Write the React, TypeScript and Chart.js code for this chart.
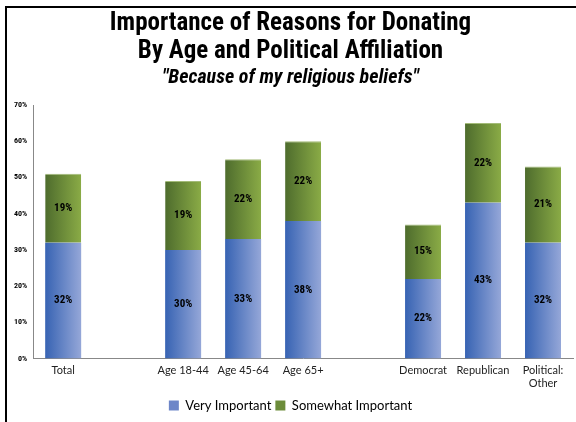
import React, { useEffect, useRef } from "react";
import { Chart, registerables } from "chart.js";
Chart.register(...registerables);

const categories: (string | string[])[] = [
  "Total", "", "Age 18-44", "Age 45-64", "Age 65+", "", "Democrat", "Republican", ["Political:", "Other"],
];
const veryImportant: (number | null)[] = [32, null, 30, 33, 38, null, 22, 43, 32];
const somewhatImportant: (number | null)[] = [19, null, 19, 22, 22, null, 15, 22, 21];
const seriesNames = ["Very Important", "Somewhat Important"];
const titleLines = ["Importance of Reasons for Donating", "By Age and Political Affiliation"];
const subtitleText = "\"Because of my religious beliefs\"";
const yMax = 70;
const yStep = 10;

const NARROW = "'Liberation Sans Narrow', 'Arial Narrow', 'Roboto Condensed', Arial, sans-serif";
const LABEL_FONT = "Lato, 'Open Sans', sans-serif";

function barGradient(ctx: any, dark: string, light: string) {
  const chart = ctx.chart;
  const xs = chart.scales?.x;
  if (!xs || !chart.chartArea) return dark;
  const cx = xs.getPixelForValue(ctx.dataIndex);
  const half = (xs.width / categories.length) * 0.6 / 2;
  const g = chart.ctx.createLinearGradient(cx - half, 0, cx + half, 0);
  g.addColorStop(0, dark);
  g.addColorStop(1, light);
  return g;
}

const framePlugin = {
  id: "frame",
  afterDraw(chart: any) {
    const c = chart.ctx;
    c.save();
    c.strokeStyle = "#000";
    c.lineWidth = 2;
    c.beginPath();
    c.moveTo(6, chart.height);
    c.lineTo(6, 7);
    c.lineTo(chart.width, 7);
    c.stroke();
    c.restore();
  },
};

const valueLabelPlugin = {
  id: "valueLabels",
  afterDatasetsDraw(chart: any) {
    const c = chart.ctx;
    c.save();
    c.font = `bold 11px ${NARROW}`;
    c.fillStyle = "#000";
    c.textAlign = "center";
    c.textBaseline = "middle";
    chart.data.datasets.forEach((ds: any, di: number) => {
      const meta = chart.getDatasetMeta(di);
      meta.data.forEach((el: any, i: number) => {
        const v = ds.data[i];
        if (v == null) return;
        const { x, y, base } = el.getProps(["x", "y", "base"], true);
        c.fillText(`${v}%`, x, (y + base) / 2);
      });
    });
    c.restore();
  },
};

export default function App() {
  const ref = useRef<HTMLCanvasElement | null>(null);
  useEffect(() => {
    document.body.style.margin = "0";
    if (!ref.current) return;
    const chart = new Chart(ref.current, {
      type: "bar",
      data: {
        labels: categories,
        datasets: [
          {
            label: seriesNames[0],
            data: veryImportant,
            backgroundColor: (ctx: any) => barGradient(ctx, "#3763b3", "#95a7d8"),
            borderWidth: 0,
            barPercentage: 0.6,
            categoryPercentage: 1,
          },
          {
            label: seriesNames[1],
            data: somewhatImportant,
            backgroundColor: (ctx: any) => barGradient(ctx, "#4e6c2d", "#8aab46"),
            borderColor: "#a3bb78",
            borderWidth: { top: 1, left: 0, right: 0, bottom: 0 },
            borderSkipped: false,
            barPercentage: 0.6,
            categoryPercentage: 1,
          },
        ],
      },
      options: {
        animation: false,
        responsive: false,
        devicePixelRatio: 1,
        layout: { padding: { left: 8, right: 3, top: 0, bottom: 0 } },
        plugins: {
          title: {
            display: true,
            text: titleLines,
            color: "#000",
            font: { family: NARROW, weight: "bold", size: 25, lineHeight: 1.12 },
            padding: { top: 10, bottom: 0 },
          },
          subtitle: {
            display: true,
            text: subtitleText,
            color: "#000",
            font: { family: NARROW, weight: "bold", style: "italic", size: 20 },
            padding: { top: 0, bottom: 15 },
          },
          legend: {
            position: "bottom",
            labels: {
              color: "#222",
              font: { family: LABEL_FONT, size: 13 },
              boxWidth: 10,
              boxHeight: 10,
              padding: 4,
              generateLabels: () => [
                { text: seriesNames[0], fillStyle: "#6d86c8", strokeStyle: "#6d86c8", lineWidth: 0, datasetIndex: 0 },
                { text: seriesNames[1], fillStyle: "#6c8c3a", strokeStyle: "#6c8c3a", lineWidth: 0, datasetIndex: 1 },
              ],
            },
          },
          tooltip: { enabled: false },
        },
        scales: {
          x: {
            stacked: true,
            grid: { display: false, drawTicks: false },
            border: { color: "#888", width: 1 },
            ticks: { color: "#222", font: { family: LABEL_FONT, size: 11 }, padding: 5, maxRotation: 0, autoSkip: false },
          },
          y: {
            stacked: true,
            min: 0,
            max: yMax,
            grid: { display: false, drawTicks: false },
            border: { color: "#888", width: 1 },
            ticks: {
              stepSize: yStep,
              color: "#000",
              font: { family: NARROW, weight: "bold", size: 8 },
              padding: 6,
              callback: (v: any) => `${v}%`,
            },
          },
        },
      },
      plugins: [framePlugin, valueLabelPlugin],
    } as any);
    return () => chart.destroy();
  }, []);
  return (
    <div style={{ width: 576, height: 422 }}>
      <canvas ref={ref} width={576} height={422} style={{ width: 576, height: 422, display: "block" }} />
    </div>
  );
}
